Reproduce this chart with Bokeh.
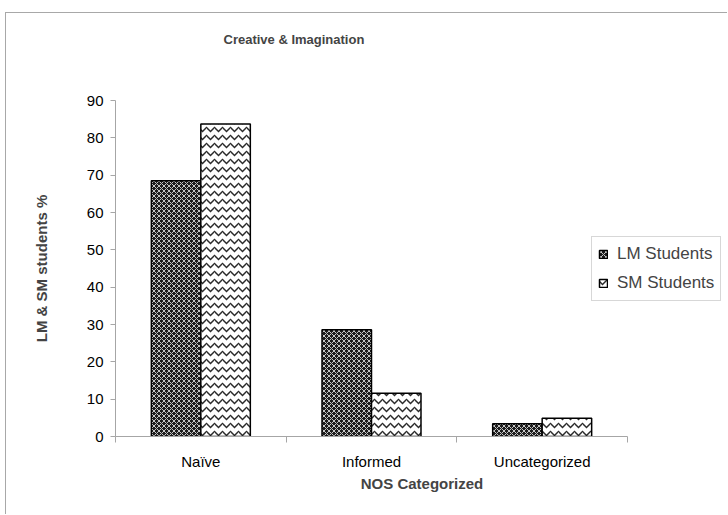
import numpy as np
from bokeh.plotting import figure
from bokeh.models import ColumnDataSource, FixedTicker, Legend, LegendItem, Range1d, Title
from bokeh.embed import file_html
from bokeh.resources import INLINE

categories = ["Naïve", "Informed", "Uncategorized"]
lm_students = [68.5, 28.6, 3.4]
sm_students = [83.7, 11.6, 4.9]
y_ticks = [0, 10, 20, 30, 40, 50, 60, 70, 80, 90]

bw = 0.29
n = len(categories)
centers = np.arange(n) + 0.5
src = ColumnDataSource(dict(
    x_lm=centers - bw / 2, x_sm=centers + bw / 2,
    lm=lm_students, sm=sm_students))

FONT = "Liberation Sans"
GRAY = "#a6a6a6"

# frame spans to the right edge so the legend (inside the frame) is not clipped;
# the category axis itself is bounded to [0, n]
p = figure(width=722, height=502, output_backend="svg", toolbar_location=None,
           x_range=Range1d(0, n * 613 / 512), y_range=Range1d(0, 90),
           min_border_left=109, min_border_top=87, min_border_right=0,
           min_border_bottom=79)
p.styles = {"border-left": "1px solid #a8a8a8", "border-top": "1px solid #a8a8a8",
            "margin-left": "5px", "margin-top": "12px"}

# spacer (nearest the frame) then the real title above it
p.add_layout(Title(text=" ", text_font_size="1px", standoff=35), "above")
p.add_layout(Title(text="Creative & Imagination", text_font=FONT,
                   text_font_size="13px", text_font_style="bold",
                   align="left", offset=108, standoff=32), "above")

r1 = p.vbar(x="x_lm", top="lm", bottom=0, width=bw, source=src,
            fill_color="#1c1c1c", line_color="black", line_width=1.5,
            hatch_pattern="diagonal_cross", hatch_color="#c8c8c8",
            hatch_scale=5, hatch_weight=1)
r2 = p.vbar(x="x_sm", top="sm", bottom=0, width=bw, source=src,
            fill_color="white", line_color="black", line_width=1.5,
            hatch_pattern="horizontal_wave", hatch_color="#2a2a2a",
            hatch_scale=8, hatch_weight=1.5)

p.xgrid.visible = False
p.ygrid.visible = False
p.outline_line_color = None

xa = p.xaxis[0]
xa.bounds = (0, n)
xa.ticker = FixedTicker(ticks=list(centers), minor_ticks=list(range(n + 1)))
xa.major_label_overrides = {float(c): name for c, name in zip(centers, categories)}
xa.major_tick_out = 0
xa.major_tick_in = 0
xa.minor_tick_out = 6
xa.minor_tick_in = 0
xa.minor_tick_line_color = GRAY
xa.axis_line_color = GRAY
xa.major_label_standoff = 10
xa.major_label_text_font = FONT
xa.major_label_text_font_size = "15px"
xa.major_label_text_color = "black"
xa.axis_label = "NOS Categorized"
xa.axis_label_text_font = FONT
xa.axis_label_text_font_size = "15px"
xa.axis_label_text_font_style = "bold"
xa.axis_label_standoff = 2

ya = p.yaxis[0]
ya.ticker = FixedTicker(ticks=y_ticks)
ya.major_tick_out = 5
ya.major_tick_in = 0
ya.minor_tick_out = 0
ya.minor_tick_in = 0
ya.major_tick_line_color = GRAY
ya.axis_line_color = GRAY
ya.major_label_standoff = 7
ya.major_label_text_font = FONT
ya.major_label_text_font_size = "15px"
ya.major_label_text_color = "black"
ya.axis_label = "LM & SM students %"
ya.axis_label_text_font = FONT
ya.axis_label_text_font_size = "15px"
ya.axis_label_text_font_style = "bold"
ya.axis_label_standoff = 34

legend = Legend(items=[LegendItem(label="LM Students", renderers=[r1]),
                       LegendItem(label="SM Students", renderers=[r2])],
                location=(476, 135), orientation="vertical",
                label_text_font=FONT, label_text_font_size="17px",
                glyph_width=10, glyph_height=10, label_standoff=9,
                padding=6, spacing=7, label_height=22, margin=0,
                border_line_color="#b0b0b0", border_line_width=1,
                background_fill_color="white", background_fill_alpha=1)
p.add_layout(legend)

open("out.html", "w").write(file_html(p, INLINE))
